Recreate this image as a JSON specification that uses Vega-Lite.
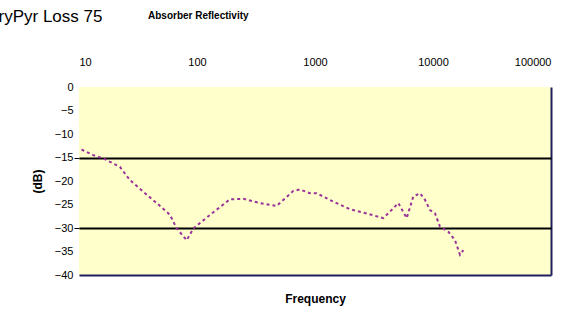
{
  "$schema": "https://vega.github.io/schema/vega-lite/v6.json",
  "width": 472,
  "height": 188,
  "autosize": "none",
  "padding": {"left": 79, "top": 87, "right": 24, "bottom": 39},
  "background": "white",
  "config": {
    "view": {"fill": "#FFFFCC", "stroke": null},
    "font": "Liberation Sans"
  },
  "title": {
    "text": "Absorber Reflectivity",
    "anchor": "start",
    "frame": "group",
    "dx": 69,
    "offset": -14,
    "fontSize": 10,
    "fontWeight": "bold",
    "font": "Liberation Sans",
    "color": "#000000"
  },
  "data": {
    "values": [
      {"freq": 10.5, "db": -13.3},
      {"freq": 13.2, "db": -14.5},
      {"freq": 16.1, "db": -15.2},
      {"freq": 22.2, "db": -17.0},
      {"freq": 27.0, "db": -19.8},
      {"freq": 35.1, "db": -22.3},
      {"freq": 45.5, "db": -24.7},
      {"freq": 59.0, "db": -27.2},
      {"freq": 67.3, "db": -30.1},
      {"freq": 81.8, "db": -32.6},
      {"freq": 93.1, "db": -30.1},
      {"freq": 129, "db": -27.2},
      {"freq": 190, "db": -23.9},
      {"freq": 247, "db": -23.8},
      {"freq": 342, "db": -24.7},
      {"freq": 473, "db": -25.3},
      {"freq": 655, "db": -22.1},
      {"freq": 746, "db": -21.8},
      {"freq": 907, "db": -22.6},
      {"freq": 1034, "db": -22.6},
      {"freq": 1429, "db": -24.4},
      {"freq": 1980, "db": -26.0},
      {"freq": 2742, "db": -26.9},
      {"freq": 3795, "db": -27.9},
      {"freq": 4323, "db": -26.5},
      {"freq": 5085, "db": -24.7},
      {"freq": 5986, "db": -27.9},
      {"freq": 6809, "db": -23.3},
      {"freq": 7762, "db": -22.6},
      {"freq": 8551, "db": -24.0},
      {"freq": 9435, "db": -26.2},
      {"freq": 10400, "db": -26.9},
      {"freq": 11460, "db": -29.7},
      {"freq": 13490, "db": -30.8},
      {"freq": 15360, "db": -32.6},
      {"freq": 16930, "db": -35.7},
      {"freq": 18070, "db": -34.7}
    ]
  },
  "layer": [
    {
      "mark": {"type": "line", "color": "#993399", "strokeWidth": 2, "strokeDash": [3, 3]},
      "encoding": {
        "x": {
          "field": "freq",
          "type": "quantitative",
          "scale": {"type": "log", "domain": [10, 100000], "nice": false},
          "axis": {
            "orient": "top",
            "values": [10, 100, 1000, 10000, 100000],
            "format": "d",
            "domain": false,
            "ticks": false,
            "labelPadding": 20,
            "labelFontSize": 11,
            "labelColor": "#000000",
            "labelFont": "Liberation Sans",
            "grid": true,
            "gridColor": "#1F1F5F",
            "gridWidth": 2,
            "gridOpacity": {"condition": {"test": "datum.value == 100000", "value": 1}, "value": 0},
            "title": "ryPyr Loss 75",
            "titleFontSize": 17,
            "titleFontWeight": "normal",
            "titleFont": "Liberation Sans",
            "titleColor": "#000000",
            "titleAnchor": "start",
            "titleAlign": "left",
            "titleX": -81,
            "titleY": -62
          }
        },
        "y": {
          "field": "db",
          "type": "quantitative",
          "scale": {"domain": [-40, 0], "nice": false},
          "axis": {
            "values": [0, -5, -10, -15, -20, -25, -30, -35, -40],
            "labelOverlap": false,
            "domain": false,
            "tickSize": 5,
            "tickColor": "#000000",
            "tickOpacity": {"condition": {"test": "datum.value == -15 || datum.value == -30", "value": 1}, "value": 0},
            "labelPadding": 1,
            "labelFontSize": 11,
            "labelColor": "#000000",
            "labelFont": "Liberation Sans",
            "grid": true,
            "gridWidth": 2,
            "gridColor": {"condition": {"test": "datum.value == -40", "value": "#1F1F5F"}, "value": "#000000"},
            "gridOpacity": {"condition": {"test": "datum.value == -15 || datum.value == -30 || datum.value == -40", "value": 1}, "value": 0},
            "title": "(dB)",
            "titleFontSize": 12,
            "titleFontWeight": "bold",
            "titleFont": "Liberation Sans",
            "titleColor": "#000000",
            "titlePadding": 10
          }
        }
      }
    },
    {
      "mark": {"type": "tick", "opacity": 0},
      "encoding": {
        "x": {
          "field": "freq",
          "type": "quantitative",
          "axis": {
            "orient": "bottom",
            "labels": false,
            "ticks": false,
            "domain": false,
            "grid": false,
            "title": "Frequency",
            "titleFontSize": 12,
            "titleFontWeight": "bold",
            "titleFont": "Liberation Sans",
            "titleColor": "#000000",
            "titlePadding": 18
          }
        }
      }
    }
  ],
  "resolve": {"axis": {"x": "independent"}}
}
